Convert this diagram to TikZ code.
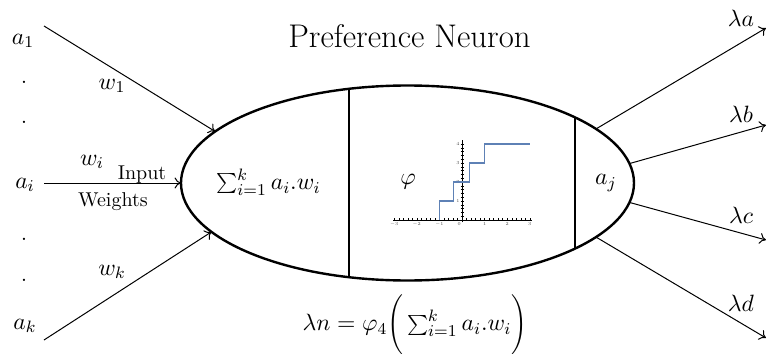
\RequirePackage{fix-cm}
\documentclass[tikz,border=0pt]{standalone}
\usetikzlibrary{shapes.geometric,arrows.meta}
\definecolor{mmablue}{rgb}{0.368,0.507,0.710}
\tikzset{
  lbl/.style={inner sep=0pt, font=\fontsize{11.8}{14}\selectfont},
  txt/.style={inner sep=0pt, font=\fontsize{10}{12}\selectfont},
  conn/.style={line width=0.5pt, -{To[length=3.2pt,width=5.5pt]}},
  divider/.style={line width=1pt},
  ticklbl/.style={inner sep=0.4pt, font=\fontsize{2.3}{3}\selectfont, text=black!70},
}
\begin{document}
\begin{tikzpicture}[x=0.5pt,y=-0.5pt]
\useasboundingbox (0,0) rectangle (768,354);

% neuron body
\node[draw, ellipse, line width=1.2pt, minimum width=226.5pt, minimum height=97.5pt,
      inner sep=0pt, outer sep=0pt] (neuron) at (407.5,183) {};
\coordinate (v1t) at (349,88.8);
\coordinate (v1b) at (349,277.2);
\coordinate (v2t) at (575,117.4);
\coordinate (v2b) at (575,248.6);
\draw[divider] (v1t) -- (v1b);
\draw[divider] (v2t) -- (v2b);

% title
\node[inner sep=0pt, font=\fontsize{16.4}{19}\selectfont, anchor=base] (title) at (409.5,47) {Preference Neuron};

% inside labels
\node[lbl] (sum) at (268.5,182) {$\sum_{i=1}^{k} a_i.w_i$};
\node[lbl] (phi) at (408,182) {$\varphi$};
\node[lbl] (aj) at (606,183) {$a_j$};

% step-function plot
\coordinate (plotO) at (462,220);
\begin{scope}[shift={(plotO)}, x=11.3pt, y=9.5pt]
  \draw[line width=0.5pt] (-3.05,0) -- (3.1,0);
  \draw[line width=0.5pt] (0,-0.12) -- (0,4.2);
  \foreach \t in {-3,-2.8,...,3.05} \draw[line width=0.2pt] (\t,-0.05) -- (\t,0.1);
  \foreach \t in {0.2,0.4,...,4.05} \draw[line width=0.2pt] (-0.06,\t) -- (0.08,\t);
  \foreach \t in {-3,-2,-1,1,2,3} \node[ticklbl, below] (xl\t) at (\t,-0.05) {$\t$};
  \node[ticklbl, below left] (xl0) at (0,-0.05) {$0$};
  \foreach \t in {1,2,3,4} \node[ticklbl, left] (yl\t) at (-0.06,\t) {$\t$};
  \draw[mmablue, line width=0.6pt] (-1,0) -- (-1,1) -- (-0.36,1) -- (-0.36,2)
       -- (0.32,2) -- (0.32,3) -- (1,3) -- (1,4) -- (3,4);
\end{scope}

% inputs
\node[lbl] (a1) at (23,41) {$a_1$};
\node[lbl] (d1) at (24,82) {.};
\node[lbl] (d2) at (24,122) {.};
\node[lbl] (ai) at (25,185) {$a_i$};
\node[lbl] (d3) at (24,239) {.};
\node[lbl] (d4) at (24,280) {.};
\node[lbl] (ak) at (25,326) {$a_k$};

\coordinate (s1) at (44,26);
\coordinate (si) at (44,183);
\coordinate (sk) at (44,340);
\draw[conn] (s1) -- (neuron.165.8);
\draw[conn] (si) -- (neuron.west);
\draw[conn] (sk) -- (neuron.194.2);

\node[lbl] (w1) at (112,86) {$w_1$};
\node[lbl] (wi) at (92,162) {$w_i$};
\node[lbl] (wk) at (112,272) {$w_k$};
\node[txt, anchor=base] (input) at (142,179.5) {Input};
\node[txt, anchor=base] (weights) at (113,206) {Weights};

% outputs
\coordinate (ea) at (766,28);
\coordinate (eb) at (766,125);
\coordinate (ec) at (766,240);
\coordinate (ed) at (766,338);
\draw[conn] (neuron.16.6) -- (ea);
\draw[conn] (neuron.5.1) -- (eb);
\draw[conn] (neuron.-5.1) -- (ec);
\draw[conn] (neuron.-16.6) -- (ed);
\node[lbl] (la) at (741,18) {$\lambda a$};
\node[lbl] (lb) at (741,114) {$\lambda b$};
\node[lbl] (lc) at (741,215) {$\lambda c$};
\node[lbl] (ld) at (741,303) {$\lambda d$};

% output formula
\node[lbl] (formula) at (415,325) {$\lambda n = \varphi_4\Bigg(\sum_{i=1}^{k} a_i.w_i\Bigg)$};
\end{tikzpicture}
\end{document}
